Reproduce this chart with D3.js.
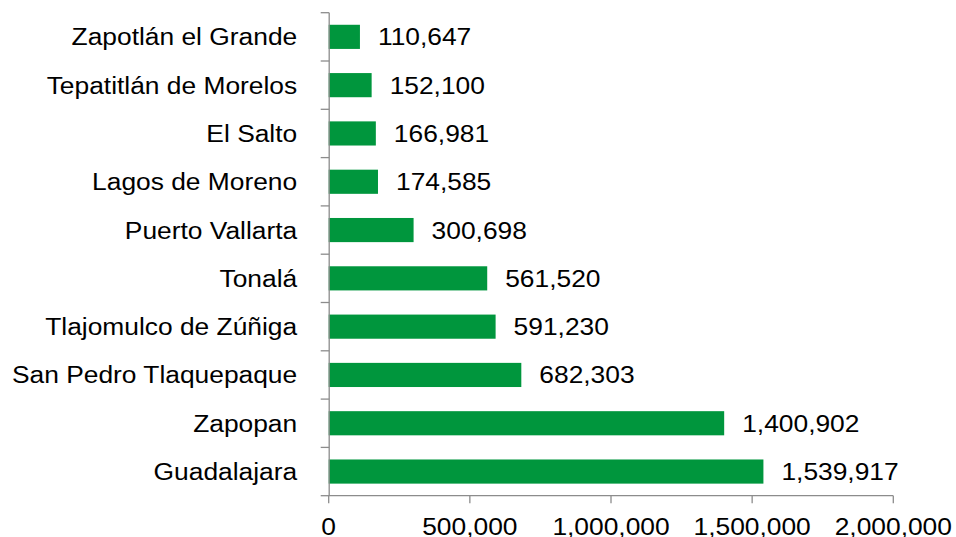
<!DOCTYPE html>
<html>
<head>
<meta charset="utf-8">
<script src="https://cdn.jsdelivr.net/npm/d3@7"></script>
<style>
  body { margin: 0; background: #fff; }
  text { font-family: "Liberation Sans", Arial, sans-serif; fill: #000; }
</style>
</head>
<body>
<div id="chart"></div>
<script>
// municipalities, top to bottom as drawn
const municipios = [
  "Zapotlán el Grande",
  "Tepatitlán de Morelos",
  "El Salto",
  "Lagos de Moreno",
  "Puerto Vallarta",
  "Tonalá",
  "Tlajomulco de Zúñiga",
  "San Pedro Tlaquepaque",
  "Zapopan",
  "Guadalajara"
];
const poblacion = [110647, 152100, 166981, 174585, 300698, 561520, 591230, 682303, 1400902, 1539917];
const xTicks = [0, 500000, 1000000, 1500000, 2000000];

const data = municipios.map((m, i) => ({ name: m, value: poblacion[i] }));

const W = 956, H = 537;
const margin = { top: 12.7, right: 62.7, bottom: 41.3, left: 328.7 };
const fontSize = 24.3;
const stretch = 1.085; // text in the original is a bit wide
const axisColor = "#8c8c8c";
const barColor = "#00963d";

const svg = d3.select("#chart")
  .append("svg")
  .attr("width", W)
  .attr("height", H);

const x = d3.scaleLinear()
  .domain([0, 2000000])
  .range([margin.left, W - margin.right]);

const y = d3.scaleBand()
  .domain(municipios)
  .range([margin.top, H - margin.bottom])
  .paddingInner(0.5)
  .paddingOuter(0.25);

const fmt = d3.format(",");

// text placed via transform so it can be stretched horizontally
function place(px, py) {
  return `translate(${px},${py}) scale(${stretch},1)`;
}

// bars
svg.selectAll("rect.bar")
  .data(data)
  .join("rect")
  .attr("class", "bar")
  .attr("x", x(0))
  .attr("y", d => y(d.name))
  .attr("width", d => x(d.value) - x(0))
  .attr("height", y.bandwidth())
  .attr("fill", barColor);

// value labels
svg.selectAll("text.val")
  .data(data)
  .join("text")
  .attr("class", "val")
  .attr("transform", d => place(x(d.value) + 18, y(d.name) + y.bandwidth() / 2))
  .attr("dy", "0.35em")
  .style("font-size", fontSize + "px")
  .text(d => fmt(d.value));

// y axis: line + ticks on band boundaries
const yAxis = svg.append("g");
const yTop = y.range()[0], yBot = y.range()[1];
yAxis.append("line")
  .attr("x1", x(0) + 0.5).attr("x2", x(0) + 0.5)
  .attr("y1", yTop).attr("y2", yBot)
  .attr("stroke", axisColor).attr("stroke-width", 1.3);
const bounds = municipios.map(m => y(m) - y.step() * 0.25).concat([yBot]);
yAxis.selectAll("line.tk")
  .data(bounds)
  .join("line")
  .attr("class", "tk")
  .attr("x1", x(0) - 8).attr("x2", x(0) + 0.5)
  .attr("y1", d => d).attr("y2", d => d)
  .attr("stroke", axisColor).attr("stroke-width", 1.3);

// category labels
svg.selectAll("text.cat")
  .data(municipios)
  .join("text")
  .attr("class", "cat")
  .attr("transform", d => place(x(0) - 31.5, y(d) + y.bandwidth() / 2))
  .attr("dy", "0.35em")
  .attr("text-anchor", "end")
  .style("font-size", fontSize + "px")
  .text(d => d);

// x axis
const xAxis = svg.append("g");
xAxis.append("line")
  .attr("x1", x(0)).attr("x2", x(2000000))
  .attr("y1", yBot).attr("y2", yBot)
  .attr("stroke", axisColor).attr("stroke-width", 1.3);
xAxis.selectAll("line.tk")
  .data(xTicks)
  .join("line")
  .attr("class", "tk")
  .attr("x1", d => x(d)).attr("x2", d => x(d))
  .attr("y1", yBot).attr("y2", yBot + 7.5)
  .attr("stroke", axisColor).attr("stroke-width", 1.3);
xAxis.selectAll("text")
  .data(xTicks)
  .join("text")
  .attr("transform", d => place(x(d), 535))
  .attr("text-anchor", "middle")
  .style("font-size", fontSize + "px")
  .text(d => fmt(d));
</script>
</body>
</html>
